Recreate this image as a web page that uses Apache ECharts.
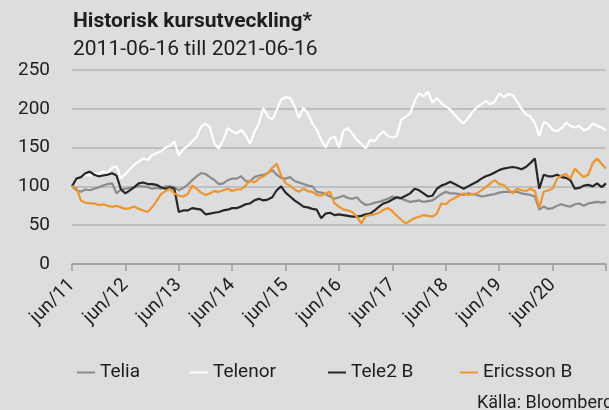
<!DOCTYPE html>
<html>
<head>
<meta charset="utf-8">
<script src="https://cdn.jsdelivr.net/npm/echarts@6/dist/echarts.min.js"></script>
<style>
  html, body { margin: 0; padding: 0; background: #dcdddf; }
  #chart { width: 609px; height: 410px; }
</style>
</head>
<body>
<div id="chart"></div>
<script>
// monthly readings, jun 2011 .. jun 2021 (index 0 = 2011-06-16)
var tickLabels = ['jun/11', 'jun/12', 'jun/13', 'jun/14', 'jun/15', 'jun/16', 'jun/17', 'jun/18', 'jun/19', 'jun/20'];

var telia = [100, 95, 93, 96, 95, 97, 99, 101, 103, 104, 91, 96, 97, 98, 99, 100, 100, 99, 97, 98,
  97, 100, 100, 99, 95, 98, 102, 108, 113, 117, 116, 112, 108, 103, 104, 108, 110, 110, 113, 107,
  106, 112, 114, 115, 117, 121, 115, 111, 110, 112, 107, 105, 103, 101, 100, 93, 92, 90, 87, 84,
  86, 88, 85, 84, 86, 80, 76, 77, 79, 80, 82, 84, 87, 85, 84, 82, 80, 81, 82, 80,
  81, 82, 86, 90, 93, 91, 91, 90, 89, 91, 90, 89, 87, 88, 89, 90, 92, 93, 93, 93,
  93, 91, 90, 89, 87, 70, 74, 71, 72, 75, 77, 75, 74, 77, 78, 75, 78, 79, 80, 79, 80];

var telenor = [100, 108, 113, 115, 114, 117, 116, 119, 118, 124, 126, 110, 116, 122, 128, 132, 136, 134, 140, 143,
  145, 150, 152, 158, 140, 148, 152, 158, 164, 177, 181, 176, 155, 149, 160, 175, 171, 168, 173, 166,
  155, 170, 181, 201, 190, 186, 198, 212, 215, 214, 204, 188, 201, 194, 181, 173, 160, 150, 162, 164,
  150, 172, 175, 168, 160, 155, 149, 160, 158, 166, 171, 165, 163, 165, 186, 190, 194, 210, 220, 216,
  222, 208, 214, 207, 203, 199, 192, 186, 181, 188, 196, 202, 206, 210, 206, 209, 220, 215, 219, 218,
  210, 200, 193, 190, 182, 165, 183, 180, 173, 171, 175, 182, 178, 176, 178, 172, 174, 181, 178, 176, 172];

var tele2 = [100, 110, 112, 117, 119, 115, 113, 114, 115, 117, 114, 96, 91, 95, 99, 104, 105, 103, 103, 102,
  99, 97, 99, 97, 67, 69, 69, 72, 71, 70, 64, 65, 66, 67, 69, 70, 72, 72, 74, 77,
  78, 82, 84, 82, 83, 86, 95, 100, 92, 87, 82, 78, 74, 73, 71, 70, 59, 65, 66, 63,
  64, 63, 62, 61, 61, 62, 64, 65, 69, 74, 78, 80, 83, 86, 85, 88, 91, 97, 95, 91,
  87, 88, 97, 101, 103, 106, 103, 100, 97, 100, 103, 106, 110, 113, 115, 118, 121, 123, 124, 125,
  124, 122, 125, 130, 136, 97, 115, 113, 113, 115, 112, 111, 108, 97, 98, 101, 102, 100, 104, 99, 104];

var ericsson = [100, 98, 82, 79, 78, 78, 76, 77, 75, 74, 75, 73, 71, 72, 74, 71, 69, 67, 73, 81,
  90, 94, 97, 91, 88, 87, 90, 101, 97, 92, 89, 91, 94, 93, 95, 97, 94, 96, 96, 101,
  108, 105, 110, 113, 117, 124, 129, 114, 104, 101, 96, 93, 97, 94, 93, 89, 88, 91, 93, 78,
  74, 70, 69, 67, 61, 52, 62, 63, 64, 66, 70, 72, 68, 62, 57, 52, 56, 59, 61, 63,
  62, 61, 65, 78, 77, 82, 85, 88, 91, 89, 90, 91, 95, 99, 104, 108, 103, 102, 96, 91,
  97, 95, 94, 97, 94, 72, 93, 95, 97, 110, 114, 116, 110, 123, 117, 112, 115, 130, 136, 129, 123];

var seriesNames = ['Telia', 'Telenor', 'Tele2 B', 'Ericsson B'];
var seriesColors = ['#8b8b8d', '#ffffff', '#262626', '#f0952a'];
var seriesValues = [telia, telenor, tele2, ericsson];

function toPoints(arr) {
  return arr.map(function (v, i) { return [i, v]; });
}

var chart = echarts.init(document.getElementById('chart'), null, { renderer: 'canvas' });

var font = 'Roboto, "DejaVu Sans", sans-serif';
var legendLeft = [77, 190, 328, 460];

var option = {
  backgroundColor: '#dcdddf',
  animation: false,
  textStyle: { fontFamily: font, color: '#1e1e1e' },
  title: [{
    text: 'Historisk kursutveckling*',
    left: 73,
    top: 11,
    padding: 0,
    textStyle: { fontFamily: font, fontSize: 21, fontWeight: 'bold', color: '#1e1e1e' }
  }, {
    text: '2011-06-16 till 2021-06-16',
    left: 73,
    top: 39,
    padding: 0,
    textStyle: { fontFamily: font, fontSize: 21, fontWeight: 'normal', color: '#1e1e1e' }
  }],
  legend: seriesNames.map(function (name, i) {
    return {
      data: [name],
      left: legendLeft[i],
      top: 363,
      padding: 0,
      icon: 'rect',
      itemWidth: 18,
      itemHeight: 2,
      itemGap: 0,
      selectedMode: false,
      textStyle: { fontFamily: font, fontSize: 19, color: '#1e1e1e' }
    };
  }),
  graphic: [{
    type: 'text',
    left: 477,
    top: 394,
    style: { text: 'Källa: Bloomberg', fontFamily: font, fontSize: 18, fill: '#1e1e1e' }
  }],
  grid: { left: 72, right: 3, top: 70, bottom: 146, containLabel: false },
  xAxis: {
    type: 'value',
    min: 0,
    max: 120,
    interval: 12,
    axisLine: { show: true, lineStyle: { color: '#9c9c9e', width: 1.5 } },
    axisTick: { show: true, length: 7, lineStyle: { color: '#9c9c9e', width: 1.5 } },
    splitLine: { show: false },
    axisLabel: {
      rotate: 45,
      margin: 18,
      fontSize: 19,
      fontFamily: font,
      color: '#1e1e1e',
      formatter: function (v) { return tickLabels[Math.round(v / 12)] || ''; }
    }
  },
  yAxis: {
    type: 'value',
    min: 0,
    max: 250,
    interval: 50,
    axisLine: { show: false },
    axisTick: { show: false },
    axisLabel: { fontSize: 19, fontFamily: font, color: '#1e1e1e', margin: 22 },
    splitLine: { lineStyle: { color: '#b3b4b7', width: 1.5 } }
  },
  series: seriesNames.map(function (name, i) {
    return {
      name: name,
      type: 'line',
      data: toPoints(seriesValues[i]),
      showSymbol: false,
      symbol: 'none',
      color: seriesColors[i],
      lineStyle: { width: 2.2, color: seriesColors[i] },
      z: 2 + i
    };
  })
};

chart.setOption(option);
</script>
</body>
</html>
